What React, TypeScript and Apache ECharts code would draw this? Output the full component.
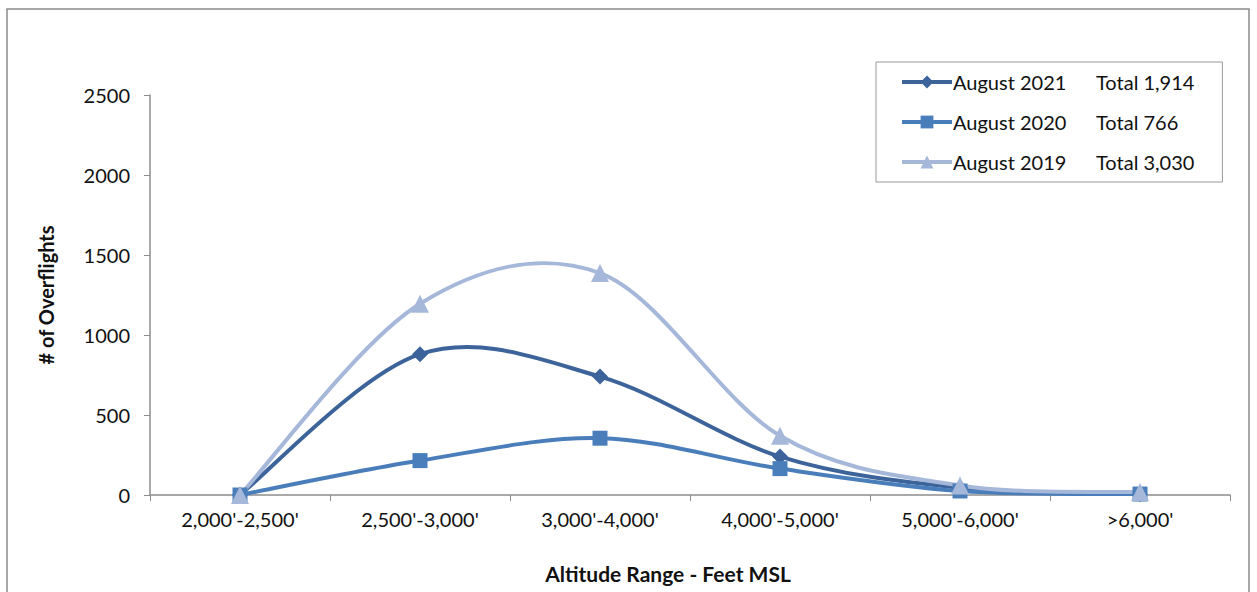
import React, { useEffect, useRef } from "react";
import * as echarts from "echarts";

const categories = ["2,000'-2,500'", "2,500'-3,000'", "3,000'-4,000'", "4,000'-5,000'", "5,000'-6,000'", ">6,000'"];
const seriesNames = ["August 2021", "August 2020", "August 2019"];
const totals = ["1,914", "766", "3,030"];
const aug2021 = [2, 880, 740, 240, 45, 7];
const aug2020 = [0, 215, 355, 165, 25, 6];
const aug2019 = [0, 1195, 1387, 370, 60, 18];
const yTicks = [0, 500, 1000, 1500, 2000, 2500];

const colors = ["#3C649A", "#4A7EBB", "#A6B8D9"];
const symbols = ["diamond", "rect", "triangle"];
const symbolSizes = [16, 15, 18];
const FONT = "Lato, 'Open Sans', sans-serif";

export default function App() {
  const ref = useRef<HTMLDivElement>(null);
  useEffect(() => {
    if (!ref.current) return;
    const chart = echarts.init(ref.current, null, { renderer: "svg" });
    const data = [aug2021, aug2020, aug2019];

    const curveSeries = (i: number) => {
      const arr = data[i];
      return {
        name: "_curve" + i,
        type: "custom",
        data: arr.map((v, j) => [j, v]),
        encode: { x: 0, y: 1 },
        silent: true,
        renderItem: (params: any, api: any) => {
          const j = params.dataIndex;
          if (j >= arr.length - 1) return null;
          const p = (k: number) => {
            const kk = Math.max(0, Math.min(arr.length - 1, k));
            return api.coord([kk, arr[kk]]);
          };
          const p0 = p(j - 1);
          const p1 = p(j);
          const p2 = p(j + 1);
          const p3 = p(j + 2);
          return {
            type: "bezierCurve",
            shape: {
              x1: p1[0],
              y1: p1[1],
              x2: p2[0],
              y2: p2[1],
              cpx1: p1[0] + (p2[0] - p0[0]) / 6,
              cpy1: p1[1] + (p2[1] - p0[1]) / 6,
              cpx2: p2[0] - (p3[0] - p1[0]) / 6,
              cpy2: p2[1] - (p3[1] - p1[1]) / 6,
            },
            style: { stroke: colors[i], lineWidth: 4, fill: "none", lineCap: "round" },
          };
        },
      };
    };

    const markerSeries = (i: number) => ({
      name: seriesNames[i],
      type: "line",
      data: data[i],
      symbol: symbols[i],
      symbolSize: symbolSizes[i],
      showAllSymbol: true,
      lineStyle: { color: colors[i], width: 0, opacity: 0 },
      itemStyle: { color: colors[i] },
    });

    const series: any[] = [];
    for (let i = 0; i < 3; i++) {
      series.push(curveSeries(i));
      series.push(markerSeries(i));
    }

    chart.setOption({
      animation: false,
      backgroundColor: "#ffffff",
      textStyle: { fontFamily: FONT },
      graphic: [
        {
          type: "rect",
          shape: { x: 7, y: 9, width: 1242, height: 600 },
          style: { fill: "none", stroke: "#8c8c8c", lineWidth: 1.5 },
          silent: true,
        },
      ],
      grid: { left: 150, right: 27, top: 95, bottom: 97, containLabel: false },
      legend: {
        orient: "vertical",
        left: 876,
        top: 62,
        padding: [10, 28, 10, 24],
        itemGap: 20,
        itemWidth: 50,
        itemHeight: 16,
        borderColor: "#9a9a9a",
        borderWidth: 1,
        backgroundColor: "#ffffff",
        data: seriesNames.map((name, i) => ({
          name,
          lineStyle: { color: colors[i], width: 4, opacity: 1 },
          itemStyle: { color: colors[i] },
        })),
        formatter: (name: string) => {
          const i = seriesNames.indexOf(name);
          return `{a|${name}}{b|Total ${totals[i]}}`;
        },
        textStyle: {
          fontFamily: FONT,
          fontSize: 20,
          color: "#111",
          padding: [0, 0, 0, -4],
          rich: {
            a: { fontFamily: FONT, fontSize: 20, color: "#111", width: 143 },
            b: { fontFamily: FONT, fontSize: 20, color: "#111" },
          },
        },
      },
      xAxis: {
        type: "category",
        data: categories,
        boundaryGap: true,
        name: "Altitude Range - Feet MSL",
        nameLocation: "middle",
        nameGap: 68,
        nameTextStyle: {
          fontFamily: FONT,
          fontSize: 21,
          fontWeight: "bold",
          color: "#111",
          padding: [0, 44, 0, 0],
        },
        axisLine: { lineStyle: { color: "#8c8c8c", width: 1.5 } },
        axisTick: { show: true, alignWithLabel: false, length: 6, lineStyle: { color: "#8c8c8c" } },
        axisLabel: { fontFamily: FONT, fontSize: 20, color: "#111", margin: 14 },
        splitLine: { show: false },
      },
      yAxis: {
        type: "value",
        min: 0,
        max: 2500,
        interval: 500,
        name: "# of Overflights",
        nameLocation: "middle",
        nameGap: 94,
        nameRotate: 90,
        nameTextStyle: { fontFamily: FONT, fontSize: 20, fontWeight: "bold", color: "#111" },
        axisLine: { show: true, lineStyle: { color: "#8c8c8c", width: 1.5 } },
        axisTick: { show: true, length: 6, lineStyle: { color: "#8c8c8c" } },
        axisLabel: {
          fontFamily: FONT,
          fontSize: 20,
          color: "#111",
          margin: 20,
          formatter: (v: number) => (yTicks.includes(v) ? String(v) : ""),
        },
        splitLine: { show: false },
      },
      series,
    });
    return () => chart.dispose();
  }, []);
  return (
    <div
      ref={ref}
      style={{ position: "fixed", left: 0, top: 0, width: 1257, height: 592 }}
    />
  );
}
